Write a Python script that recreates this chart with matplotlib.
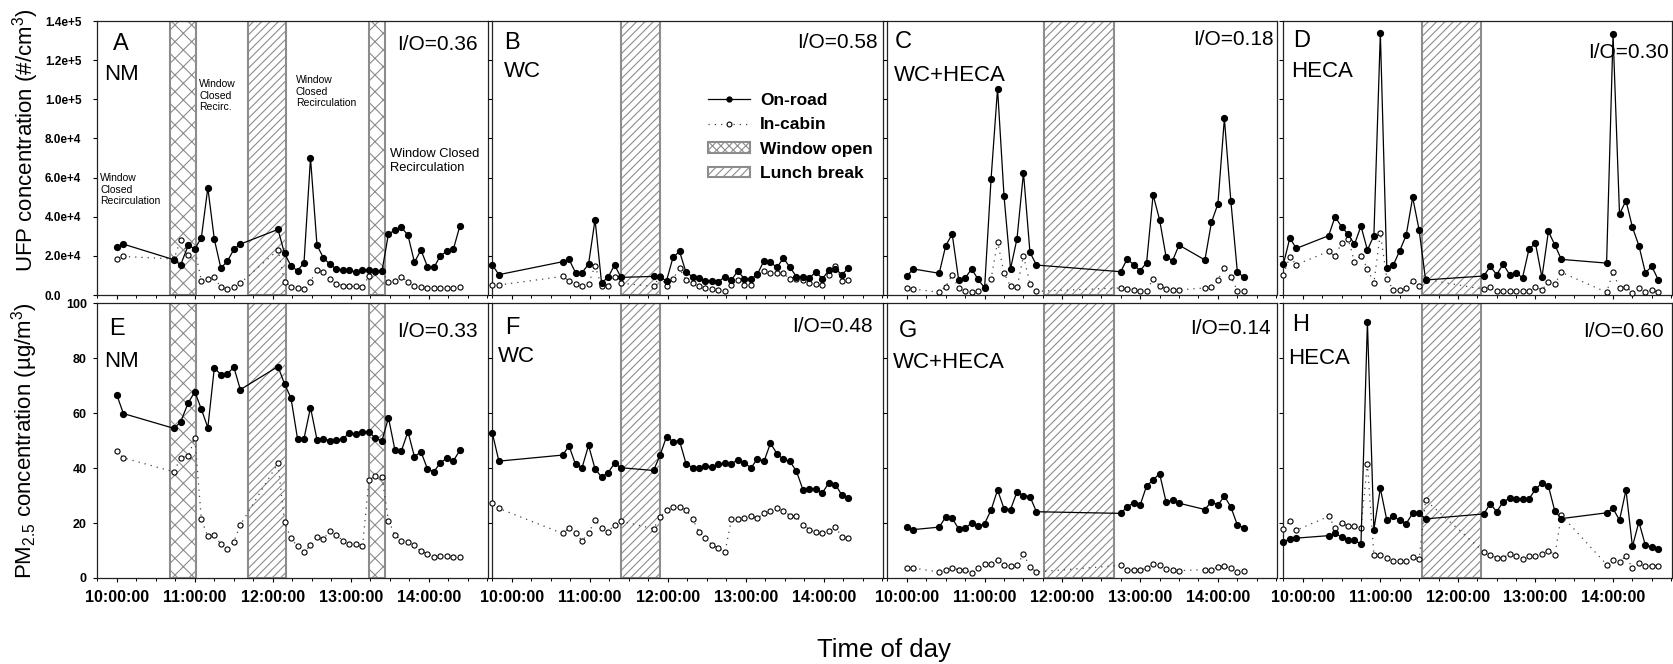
import numpy as np
import matplotlib.pyplot as plt
from matplotlib.lines import Line2D
from matplotlib.patches import Patch
from matplotlib.ticker import MultipleLocator, FuncFormatter

plt.rcParams['font.family'] = 'Liberation Sans'
plt.rcParams['mathtext.fontset'] = 'custom'
plt.rcParams['mathtext.rm'] = 'Liberation Sans'
plt.rcParams['mathtext.default'] = 'regular'
plt.rcParams['hatch.linewidth'] = 0.8

# ---- sampling times (one list per driving day) ----
times_nm = ["10:00", "10:05", "10:44", "10:49", "10:55", "11:00", "11:05", "11:10", "11:15",
            "11:20", "11:25", "11:30", "11:35", "12:04", "12:09", "12:14", "12:19", "12:24",
            "12:29", "12:34", "12:39", "12:44", "12:49", "12:54", "12:59", "13:04", "13:09",
            "13:14", "13:19", "13:24", "13:29", "13:34", "13:39", "13:44", "13:49", "13:54",
            "13:59", "14:04", "14:09", "14:14", "14:19", "14:24"]
times_wc = ["09:45", "09:50", "10:39", "10:44", "10:49", "10:54", "10:59", "11:04", "11:09",
            "11:14", "11:19", "11:24", "11:49", "11:54", "11:59", "12:04", "12:09", "12:14",
            "12:19", "12:24", "12:29", "12:34", "12:39", "12:44", "12:49", "12:54", "12:59",
            "13:04", "13:09", "13:14", "13:19", "13:24", "13:29", "13:34", "13:39", "13:44",
            "13:49", "13:54", "13:59", "14:04", "14:09", "14:14", "14:19"]
times_wch = ["10:00", "10:05", "10:25", "10:30", "10:35", "10:40", "10:45", "10:50", "10:55",
             "11:00", "11:05", "11:10", "11:15", "11:20", "11:25", "11:30", "11:35", "11:40",
             "12:45", "12:50", "12:55", "13:00", "13:05", "13:10", "13:15", "13:20", "13:25",
             "13:30", "13:50", "13:55", "14:00", "14:05", "14:10", "14:15", "14:20"]
times_heca = ["09:45", "09:50", "09:55", "10:20", "10:25", "10:30", "10:35", "10:40", "10:45",
              "10:50", "10:55", "11:00", "11:05", "11:10", "11:15", "11:20", "11:25", "11:30",
              "11:35", "12:20", "12:25", "12:30", "12:35", "12:40", "12:45", "12:50", "12:55",
              "13:00", "13:05", "13:10", "13:15", "13:20", "13:55", "14:00", "14:05", "14:10",
              "14:15", "14:20", "14:25", "14:30", "14:35"]

# ---- UFP (#/cm3), thousands ----
ufp_road_nm = [24.7, 26.0, 18.0, 15.3, 25.5, 23.5, 29.3, 54.8, 28.4, 13.8, 17.2, 23.3, 26.0,
               33.5, 21.3, 14.8, 12.4, 16.5, 70.0, 25.4, 18.9, 15.7, 13.1, 12.6, 12.6, 11.7,
               12.8, 12.8, 12.1, 12.1, 31.3, 33.0, 34.5, 30.6, 16.7, 23.0, 14.5, 14.1, 20.1,
               22.3, 23.5, 35.4]
ufp_cabin_nm = [18.4, 19.7, 18.4, 28.3, 20.6, 23.5, 7.3, 8.2, 9.0, 3.9, 3.1, 4.3, 6.1,
                23.0, 6.8, 4.3, 3.6, 2.9, 6.8, 12.9, 11.6, 8.2, 5.6, 4.8, 4.4, 4.4,
                3.9, 9.9, 11.6, 12.1, 6.5, 7.3, 9.4, 6.5, 4.8, 3.9, 3.6, 3.6, 3.6,
                3.6, 3.6, 3.9]
ufp_road_wc = [15.3, 10.4, 17.0, 18.2, 11.4, 11.4, 15.8, 38.5, 6.3, 9.0, 15.3, 9.0,
               9.5, 9.0, 7.3, 19.2, 22.3, 11.6, 9.4, 8.7, 7.3, 7.3, 6.8, 9.4, 7.7, 12.4,
               8.0, 8.0, 10.7, 17.5, 16.7, 14.1, 18.9, 14.1, 9.4, 9.0, 8.7, 11.9, 8.2,
               12.8, 13.3, 10.4, 13.8]
ufp_cabin_wc = [5.1, 5.1, 9.5, 7.3, 5.6, 4.4, 5.6, 15.0, 4.4, 4.4, 9.4, 6.0,
                4.4, 9.5, 4.8, 8.2, 13.6, 7.7, 6.0, 4.8, 3.6, 2.9, 2.6, 1.9, 5.3, 7.7,
                5.3, 5.3, 10.4, 12.4, 11.1, 11.4, 11.1, 8.0, 8.0, 7.7, 6.3, 5.6, 5.3,
                10.4, 14.6, 7.3, 7.8]
ufp_road_wch = [9.7, 13.3, 11.1, 25.2, 31.1, 7.7, 8.7, 13.3, 8.0, 3.6, 59.4, 105.5, 50.4,
                13.3, 28.8, 62.5, 21.8, 15.3, 11.9, 18.4, 15.5, 12.4, 16.5, 51.2, 38.5,
                19.6, 17.5, 25.5, 17.9, 37.1, 46.5, 90.2, 48.0, 11.9, 9.0]
ufp_cabin_wch = [3.6, 3.1, 1.4, 4.3, 10.2, 3.6, 2.2, 1.4, 1.9, 4.0, 8.2, 27.2, 11.2,
                 4.4, 3.9, 20.1, 5.6, 1.9, 3.6, 3.1, 2.6, 2.2, 2.2, 8.2, 4.8,
                 3.1, 2.6, 2.6, 3.6, 3.9, 7.7, 13.8, 9.4, 2.2, 1.9]
ufp_road_heca = [15.8, 29.1, 23.8, 30.3, 40.0, 34.9, 31.1, 25.9, 35.2, 23.0, 30.3, 133.8,
                 14.0, 15.3, 22.6, 30.6, 49.9, 33.2, 7.7, 9.7, 14.6, 10.4, 15.8, 10.4,
                 11.2, 8.9, 23.5, 26.4, 9.0, 32.5, 25.5, 18.2, 16.3, 133.3, 41.4, 48.2,
                 34.6, 25.2, 11.4, 14.6, 7.7]
ufp_cabin_heca = [10.4, 19.6, 15.5, 22.3, 19.7, 26.7, 28.8, 17.0, 20.1, 13.4, 6.1, 31.7,
                  8.3, 2.6, 2.6, 3.4, 7.3, 4.6, 8.0, 2.9, 3.9, 2.2, 2.2, 2.2,
                  2.2, 1.9, 2.2, 3.9, 2.7, 6.5, 5.6, 11.6, 1.4, 11.6, 3.6, 4.3,
                  1.2, 3.6, 1.4, 2.6, 1.4]

# ---- PM2.5 (ug/m3) ----
pm_road_nm = [66.5, 59.8, 54.4, 56.7, 63.8, 67.7, 61.4, 54.7, 76.4, 74.0, 74.2, 76.7, 68.5,
              76.9, 70.6, 65.4, 50.7, 50.7, 62.0, 50.3, 50.7, 49.9, 50.3, 50.5, 52.9, 52.2,
              53.2, 53.2, 50.8, 49.9, 58.3, 46.5, 46.3, 53.2, 44.1, 45.9, 39.7, 38.6, 42.0,
              43.5, 42.6, 46.5]
pm_cabin_nm = [46.1, 43.7, 38.6, 43.7, 44.3, 50.9, 21.3, 15.1, 15.8, 12.2, 10.6, 13.2, 19.3,
               41.7, 20.2, 14.5, 11.5, 9.4, 11.9, 14.9, 14.3, 17.0, 15.7, 13.5, 12.4, 12.3,
               11.5, 35.5, 37.1, 36.8, 20.8, 15.6, 13.6, 13.1, 11.9, 9.7, 8.9, 7.7, 8.0,
               8.0, 7.5, 7.7]
pm_road_wc = [52.6, 42.5, 44.7, 48.0, 41.3, 40.1, 48.2, 39.7, 36.7, 38.3, 41.7, 40.1,
              39.1, 44.6, 51.4, 49.6, 49.9, 41.6, 40.1, 39.9, 40.9, 40.3, 41.6, 41.7, 41.6,
              43.0, 41.9, 40.0, 43.4, 42.4, 49.0, 45.2, 43.1, 42.4, 38.8, 32.1, 32.4, 32.2,
              31.0, 34.6, 34.0, 30.1, 29.2]
pm_cabin_wc = [27.2, 25.3, 16.2, 18.2, 16.2, 13.6, 16.2, 21.1, 18.3, 16.8, 19.4, 20.7,
               17.9, 22.1, 24.7, 25.9, 25.8, 24.9, 21.5, 16.8, 14.5, 12.0, 10.8, 9.4, 21.4,
               21.4, 21.9, 22.6, 21.7, 23.6, 24.4, 25.4, 24.5, 22.7, 22.4, 19.4, 17.6, 16.6,
               16.4, 17.1, 18.7, 14.8, 14.5]
pm_road_wch = [18.6, 17.6, 18.5, 22.2, 21.7, 17.9, 18.2, 19.9, 18.8, 19.8, 24.7, 32.0, 25.2,
               24.9, 31.3, 30.0, 29.6, 24.1, 23.5, 25.9, 27.3, 26.5, 33.5, 35.6, 38.0,
               27.7, 28.3, 27.2, 24.9, 27.8, 26.5, 29.8, 25.8, 19.3, 18.3]
pm_cabin_wch = [3.6, 3.6, 2.2, 2.8, 3.6, 3.0, 3.0, 1.8, 3.5, 5.1, 5.1, 6.7, 4.9,
                4.3, 4.6, 8.7, 4.0, 2.2, 4.6, 2.8, 2.9, 2.9, 3.5, 5.2, 4.7,
                3.3, 2.8, 2.7, 3.0, 3.0, 4.0, 4.3, 3.5, 2.2, 2.4]
pm_road_heca = [13.1, 14.3, 14.5, 15.4, 16.2, 14.9, 13.9, 13.9, 12.2, 93.1, 17.6, 32.6,
                21.0, 22.4, 21.0, 19.8, 23.5, 23.5, 21.5, 23.3, 27.0, 24.1, 27.7, 29.0,
                28.6, 28.8, 28.8, 32.2, 34.6, 33.4, 24.3, 21.6, 23.7, 25.3, 21.0, 32.0,
                11.5, 20.4, 11.9, 11.4, 10.4]
pm_cabin_heca = [18.0, 20.8, 17.4, 22.4, 18.2, 20.0, 18.8, 18.8, 18.2, 41.6, 8.3, 8.5,
                 7.2, 6.3, 6.3, 6.3, 7.5, 7.0, 28.3, 9.5, 8.5, 7.3, 7.3, 8.9,
                 8.0, 7.0, 7.9, 8.0, 8.9, 10.0, 8.4, 22.8, 4.9, 6.7, 5.8, 8.1,
                 3.6, 5.5, 4.3, 4.5, 4.5]

# ---- window-open and lunch periods ----
window_open = [[("10:41", "11:01"), ("13:14", "13:26")], [], [], []]
lunch_break = [("11:41", "12:10"), ("11:24", "11:54"), ("11:46", "12:40"), ("11:32", "12:18")]

conditions = ["NM", "WC", "WC+HECA", "HECA"]
letters_ufp = ["A", "B", "C", "D"]
letters_pm = ["E", "F", "G", "H"]
io_ufp = ["0.36", "0.58", "0.18", "0.30"]
io_pm = ["0.33", "0.48", "0.14", "0.60"]

times = [times_nm, times_wc, times_wch, times_heca]
ufp_road = [ufp_road_nm, ufp_road_wc, ufp_road_wch, ufp_road_heca]
ufp_cabin = [ufp_cabin_nm, ufp_cabin_wc, ufp_cabin_wch, ufp_cabin_heca]
pm_road = [pm_road_nm, pm_road_wc, pm_road_wch, pm_road_heca]
pm_cabin = [pm_cabin_nm, pm_cabin_wc, pm_cabin_wch, pm_cabin_heca]


def hours(ts):
    return np.array([int(t[:2]) + int(t[3:]) / 60 for t in ts])


def sci_fmt(v, pos):
    if v == 0:
        return "0.0"
    m, e = f"{v:.1e}".split("e")
    return f"{m}e+{int(e)}"


W, H = 1673, 664
fig = plt.figure(figsize=(W / 100, H / 100), dpi=100)

col_left = [97, 492, 887, 1283]
col_w = [391, 391, 390, 389]
row_top = [21, 303]
row_h = [274, 275]

span_edge = "#8c8c8c"

# text layout per panel: (letter x, letter y, condition x, condition y, I/O x, I/O y)
txt_top = [(0.041, 0.916, 0.018, 0.803, 0.975, 0.916),
           (0.031, 0.920, 0.031, 0.816, 0.986, 0.920),
           (0.020, 0.923, 0.018, 0.800, 0.992, 0.934),
           (0.025, 0.927, 0.022, 0.814, 0.992, 0.884)]
txt_bot = [(0.031, 0.905, 0.018, 0.789, 0.975, 0.895),
           (0.033, 0.909, 0.015, 0.807, 0.974, 0.913),
           (0.031, 0.898, 0.016, 0.784, 0.984, 0.909),
           (0.024, 0.920, 0.013, 0.800, 0.979, 0.895)]

axes = []
for r in range(2):
    for c in range(4):
        ax = fig.add_axes([col_left[c] / W, 1 - (row_top[r] + row_h[r]) / H,
                           col_w[c] / W, row_h[r] / H])
        t = hours(times[c])
        if r == 0:
            road = np.array(ufp_road[c]) * 1000
            cabin = np.array(ufp_cabin[c]) * 1000
        else:
            road = np.array(pm_road[c])
            cabin = np.array(pm_cabin[c])

        for a, b in window_open[c]:
            ax.axvspan(hours([a])[0], hours([b])[0], facecolor="white", edgecolor=span_edge,
                       hatch="xx", lw=1.5, zorder=1)
        a, b = lunch_break[c]
        ax.axvspan(hours([a])[0], hours([b])[0], facecolor="white", edgecolor=span_edge,
                   hatch="////", lw=1.5, zorder=1)

        ax.plot(t, cabin, linestyle=(0, (1, 4)), color="#444444", lw=0.9, marker="o",
                ms=3.7, mfc="white", mec="black", mew=0.8, zorder=3, clip_on=False)
        ax.plot(t, road, "-", color="black", lw=0.9, marker="o", ms=4.2, mfc="black",
                mec="black", zorder=4, clip_on=False)

        ax.set_xlim(9.745, 14.76)
        ax.xaxis.set_major_locator(MultipleLocator(1))
        ax.xaxis.set_minor_locator(MultipleLocator(0.25))
        ax.xaxis.set_major_formatter(FuncFormatter(lambda h, p: f"{int(round(h))}:00:00"))
        ax.tick_params(axis="x", which="major", direction="out", length=3, width=0.8, pad=6,
                       labelsize=11.5)
        ax.tick_params(axis="x", which="minor", direction="out", length=2.5, width=0.7)
        ax.tick_params(axis="y", direction="out", length=3, width=0.8)
        for lab in ax.get_xticklabels():
            lab.set_fontweight("bold")
        if r == 0:
            ax.tick_params(labelbottom=False)

        if r == 0:
            ax.set_ylim(0, 1.4e5)
            ax.yaxis.set_major_locator(MultipleLocator(2e4))
            ax.yaxis.set_major_formatter(FuncFormatter(sci_fmt))
        else:
            ax.set_ylim(0, 100)
            ax.yaxis.set_major_locator(MultipleLocator(20))

        if c == 0:
            if r == 0:
                ax.tick_params(axis="y", labelsize=8.5, pad=34.5)
                for lab in ax.get_yticklabels():
                    lab.set_fontweight("bold")
                    lab.set_horizontalalignment("left")
            else:
                ax.tick_params(axis="y", labelsize=9, pad=4.3)
                for lab in ax.get_yticklabels():
                    lab.set_fontweight("bold")
        else:
            ax.tick_params(labelleft=False)

        for s in ax.spines.values():
            s.set_linewidth(0.9)
            s.set_color("#222222")

        lx, ly, cx, cy, ix, iy = (txt_top if r == 0 else txt_bot)[c]
        letter = (letters_ufp if r == 0 else letters_pm)[c]
        io = (io_ufp if r == 0 else io_pm)[c]
        ax.text(lx, ly, letter, transform=ax.transAxes, fontsize=17, va="center", ha="left",
                zorder=6)
        ax.text(cx, cy, conditions[c], transform=ax.transAxes, fontsize=16, va="center",
                ha="left", zorder=6)
        ax.text(ix, iy, f"I/O={io}", transform=ax.transAxes, fontsize=15, va="center",
                ha="right", zorder=6)
        axes.append(ax)

# ventilation notes on the NM day
ax_a = axes[0]
ax_a.text(0.008, 0.445, "Window\nClosed\nRecirculation", transform=ax_a.transAxes,
          fontsize=7.5, va="top", ha="left", linespacing=1.2)
ax_a.text(0.262, 0.788, "Window\nClosed\nRecirc.", transform=ax_a.transAxes,
          fontsize=7.5, va="top", ha="left", linespacing=1.2)
ax_a.text(0.508, 0.803, "Window\nClosed\nRecirculation", transform=ax_a.transAxes,
          fontsize=7.5, va="top", ha="left", linespacing=1.2)
ax_a.text(0.749, 0.536, "Window Closed\nRecirculation", transform=ax_a.transAxes,
          fontsize=9.3, va="top", ha="left", linespacing=1.2)

# legend in panel B
handles = [
    Line2D([], [], color="black", lw=0.9, marker="o", ms=3.5, mfc="black"),
    Line2D([], [], color="#444444", lw=0.9, linestyle=(0, (1, 4)), marker="o", ms=3.5,
           mfc="white", mec="black", mew=0.8),
    Patch(facecolor="white", edgecolor=span_edge, hatch="xxxx", lw=1.5),
    Patch(facecolor="white", edgecolor=span_edge, hatch="////", lw=1.5),
]
axes[1].legend(handles, ["On-road", "In-cabin", "Window open", "Lunch break"],
               loc="upper left", bbox_to_anchor=(0.53, 0.77), frameon=False, borderpad=0,
               prop={"weight": "bold", "size": 12.5}, handlelength=2.4, handleheight=0.55,
               handletextpad=0.6, labelspacing=0.55)

fig.text(26 / W, 1 - 140 / H, "UFP concentration (#/cm$^3$)", rotation=90, fontsize=16,
         ha="center", va="center")
fig.text(25 / W, 1 - 441 / H, "PM$_{2.5}$ concentration (\u00b5g/m$^3$)", rotation=90,
         fontsize=16, ha="center", va="center")
fig.text(884 / W, 1 - 657 / H, "Time of day", fontsize=18.5, ha="center", va="baseline")

fig.savefig("out.png", dpi=100)
